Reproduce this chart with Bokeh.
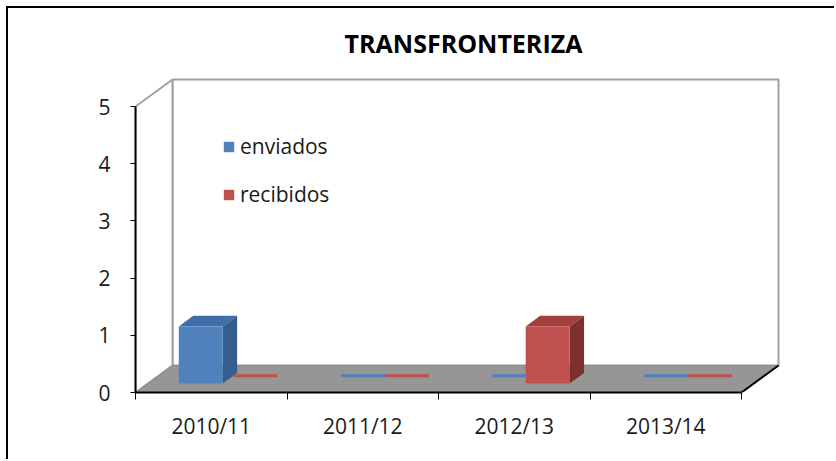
from bokeh.plotting import figure
from bokeh.models import Range1d, FixedTicker
from bokeh.embed import file_html
from bokeh.resources import INLINE

# ---- data ----
categories = ["2010/11", "2011/12", "2012/13", "2013/14"]
enviados = [1, 0, 0, 0]
recibidos = [0, 0, 1, 0]
y_ticks = [0, 1, 2, 3, 4, 5]
title_text = "TRANSFRONTERIZA"

series_names = ["enviados", "recibidos"]
series_values = [enviados, recibidos]
front_colors = ["#4F81BD", "#C0504D"]
top_colors = ["#3F6EA8", "#A03F3C"]
side_colors = ["#355E8F", "#7F302E"]

# ---- style / geometry constants ----
DX, DY = 0.2442, 0.472        # depth offset (data units)
D0, D1, DM = 0.33, 0.72, 0.62  # bar depth span / zero-bar depth
BAR_W = 0.29
OFFS = [0.205, 0.495]
FONT = "Open Sans"

ncat = len(categories)
ymax = y_ticks[-1]

p = figure(frame_width=656, frame_height=320,
           min_border_left=127, min_border_right=45,
           min_border_top=64, min_border_bottom=69,
           x_range=Range1d(0, 4.33), y_range=Range1d(0, 320 / 57.2),
           output_backend="svg", toolbar_location=None, tools="")
p.styles = {"margin-left": "8px", "margin-top": "8px",
            "box-shadow": "-2px -2px 0 0 #000"}
p.outline_line_color = None
p.xgrid.visible = False
p.ygrid.visible = False
p.background_fill_color = "white"
p.border_fill_color = "white"

# title
p.title.text = title_text
p.title.align = "center"
p.title.text_font = FONT
p.title.text_font_style = "bold"
p.title.text_font_size = "25px"
p.title.text_color = "#000000"
p.title.standoff = 25

# back wall
p.patch([DX, ncat + DX, ncat + DX, DX], [DY, DY, ymax + DY, ymax + DY],
        fill_color="white", line_color="#A0A0A0", line_width=2)
# side wall
p.patch([0, DX, DX, 0], [0, DY, ymax + DY, ymax],
        fill_color="white", line_color="#A0A0A0", line_width=2)
# floor
p.patch([0, ncat, ncat + DX, DX], [0, 0, DY, DY],
        fill_color="#969696", line_color="#8C8C8C", line_width=1)
p.line([ncat, ncat + DX], [0, DY], line_color="black", line_width=2)

# bars
for s, (name, vals) in enumerate(zip(series_names, series_values)):
    fx, fy, tx, ty, sx, sy, zx0, zx1, zy = [], [], [], [], [], [], [], [], []
    for i, v in enumerate(vals):
        x0 = i + OFFS[s]
        x1 = x0 + BAR_W
        fx.append([x0 + D0 * DX, x1 + D0 * DX, x1 + D0 * DX, x0 + D0 * DX])
        fy.append([D0 * DY, D0 * DY, v + D0 * DY, v + D0 * DY])
        if v > 0:
            tx.append([x0 + D0 * DX, x1 + D0 * DX, x1 + D1 * DX, x0 + D1 * DX])
            ty.append([v + D0 * DY, v + D0 * DY, v + D1 * DY, v + D1 * DY])
            sx.append([x1 + D0 * DX, x1 + D1 * DX, x1 + D1 * DX, x1 + D0 * DX])
            sy.append([D0 * DY, D1 * DY, v + D1 * DY, v + D0 * DY])
        else:
            zx0.append(x0 + DM * DX)
            zx1.append(x1 + DM * DX)
            zy.append(v + DM * DY)
    if zx0:
        p.segment(x0=zx0, y0=zy, x1=zx1, y1=zy, line_color=front_colors[s],
                  line_width=3)
    if tx:
        p.patches(tx, ty, fill_color=top_colors[s], line_color=None)
        p.patches(sx, sy, fill_color=side_colors[s], line_color=None)
    p.patches(fx, fy, fill_color=front_colors[s], line_color=None,
              legend_label=name)

# y axis
ya = p.yaxis[0]
ya.ticker = FixedTicker(ticks=y_ticks, minor_ticks=[])
ya.bounds = (0, ymax)
ya.axis_line_color = "black"
ya.axis_line_width = 2
ya.major_tick_line_color = "black"
ya.major_tick_line_width = 1
ya.major_tick_out = 5
ya.major_tick_in = 0
ya.major_label_standoff = 20
ya.major_label_text_font = FONT
ya.major_label_text_font_size = "21px"
ya.major_label_text_color = "#1a1a1a"

# x axis
centers = [i + 0.5 for i in range(ncat)]
xa = p.xaxis[0]
xa.ticker = FixedTicker(ticks=centers, minor_ticks=list(range(ncat + 1)))
xa.major_label_overrides = {c: lab for c, lab in zip(centers, categories)}
xa.bounds = (0, ncat)
xa.axis_line_color = "black"
xa.axis_line_width = 2
xa.major_tick_line_color = None
xa.minor_tick_line_color = "black"
xa.minor_tick_out = 7
xa.minor_tick_in = 0
xa.major_label_standoff = 12
xa.major_label_text_font = FONT
xa.major_label_text_font_size = "21px"
xa.major_label_text_color = "#1a1a1a"

# legend
lg = p.legend[0]
lg.location = (87, 184)
lg.padding = 0
lg.margin = 0
lg.spacing = 20
lg.border_line_color = None
lg.background_fill_alpha = 0
lg.glyph_width = 13
lg.glyph_height = 13
lg.label_standoff = 5
lg.label_text_font = FONT
lg.label_text_font_size = "21px"
lg.label_text_color = "#1a1a1a"

open("out.html", "w").write(file_html(p, INLINE))
